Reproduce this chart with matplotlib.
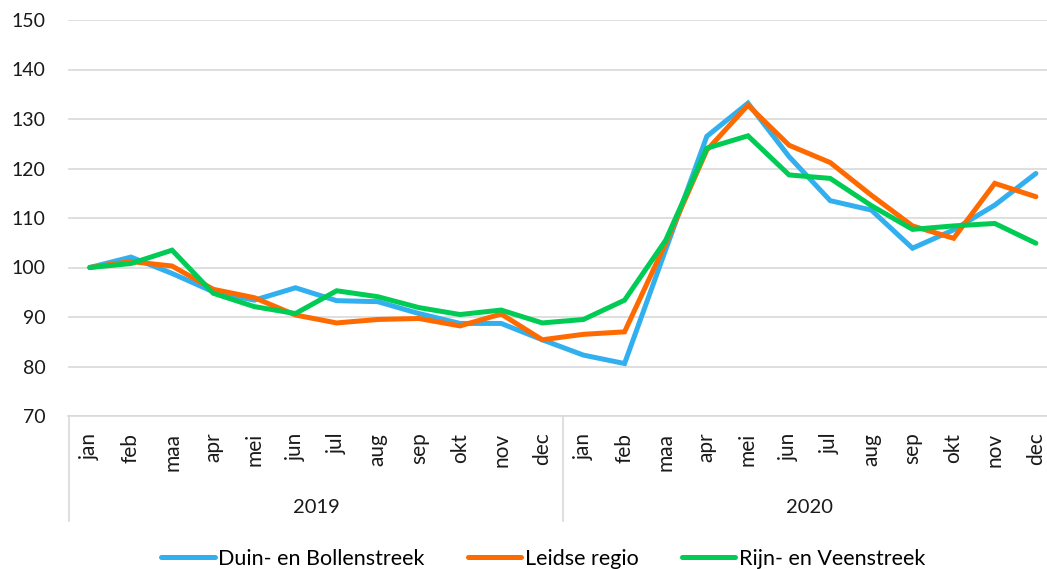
import matplotlib.pyplot as plt
from matplotlib.lines import Line2D

# index per maand, jan 2019 = 100
months = ['jan', 'feb', 'maa', 'apr', 'mei', 'jun', 'jul', 'aug', 'sep', 'okt', 'nov', 'dec']
years = ['2019', '2020']

duin = [100.0, 102.1, 98.8, 95.1, 93.4, 95.9, 93.3, 93.1, 90.7, 88.7, 88.7, 85.4,
        82.3, 80.6, 103.6, 126.5, 133.2, 122.4, 113.5, 111.6, 103.9, 107.6, 112.6, 119.0]
leiden = [100.0, 101.2, 100.3, 95.6, 93.9, 90.4, 88.8, 89.5, 89.7, 88.2, 90.6, 85.4,
          86.5, 87.0, 104.9, 123.7, 132.8, 124.7, 121.2, 114.6, 108.4, 105.9, 117.0, 114.3]
rijn = [100.0, 100.8, 103.5, 94.8, 92.1, 90.7, 95.3, 94.1, 91.9, 90.5, 91.4, 88.8,
        89.5, 93.4, 105.5, 124.1, 126.6, 118.7, 118.0, 112.5, 107.7, 108.4, 108.9, 104.9]

series = [('Duin- en Bollenstreek', duin, '#32AFEF'),
          ('Leidse regio', leiden, '#FF6A00'),
          ('Rijn- en Veenstreek', rijn, '#00CC55')]

num_font = 'Lato'
grid_col = '#D9D9D9'
txt_col = '#1a1a1a'

fig = plt.figure(figsize=(10.47, 5.69), dpi=100)
ax = fig.add_axes([68 / 1047, 1 - 416 / 569, 979 / 1047, 396 / 569])

x = list(range(len(months) * len(years)))
handles = []
for name, vals, col in series:
    h, = ax.plot(x, vals, color=col, lw=3.6, solid_joinstyle='miter',
                 solid_capstyle='round', label=name)
    handles.append(h)

ax.set_ylim(70, 150)
ax.set_yticks(range(70, 151, 10))
ax.set_xlim(-0.53, 23.27)
ax.grid(axis='y', color=grid_col, lw=1.2)
ax.set_axisbelow(True)
for s in ['top', 'right', 'left']:
    ax.spines[s].set_visible(False)
ax.spines['bottom'].set_color(grid_col)
ax.spines['bottom'].set_linewidth(1.2)
ax.tick_params(length=0)
ax.tick_params(axis='y', pad=16)
for lbl in ax.get_yticklabels():
    lbl.set_fontfamily(num_font)
    lbl.set_fontsize(14)
    lbl.set_color(txt_col)

ax.set_xticks(x)
ax.set_xticklabels(months * len(years), rotation=90, fontsize=15,
                   family=num_font, color=txt_col, va='top')
ax.tick_params(axis='x', pad=12)

# tweede niveau van de categorie-as: jaren
trans = ax.get_xaxis_transform()
for i, yr in enumerate(years):
    ax.text(i * 12 + 5.5, -0.23, yr, transform=trans, ha='center', va='center',
            fontsize=14.5, family=num_font, color=txt_col)
for xs in [-0.5, 11.5]:
    ax.add_line(Line2D([xs, xs], [0, -0.265], transform=trans, color=grid_col,
                       lw=1.2, clip_on=False))

fig.legend(handles=handles, loc='center', bbox_to_anchor=(543 / 1047, 1 - 559 / 569),
           ncol=3, frameon=False, handlelength=2.5, handletextpad=0.15,
           columnspacing=2.0, prop={'family': num_font, 'size': 15.5})

fig.savefig('out.png', dpi=100)
